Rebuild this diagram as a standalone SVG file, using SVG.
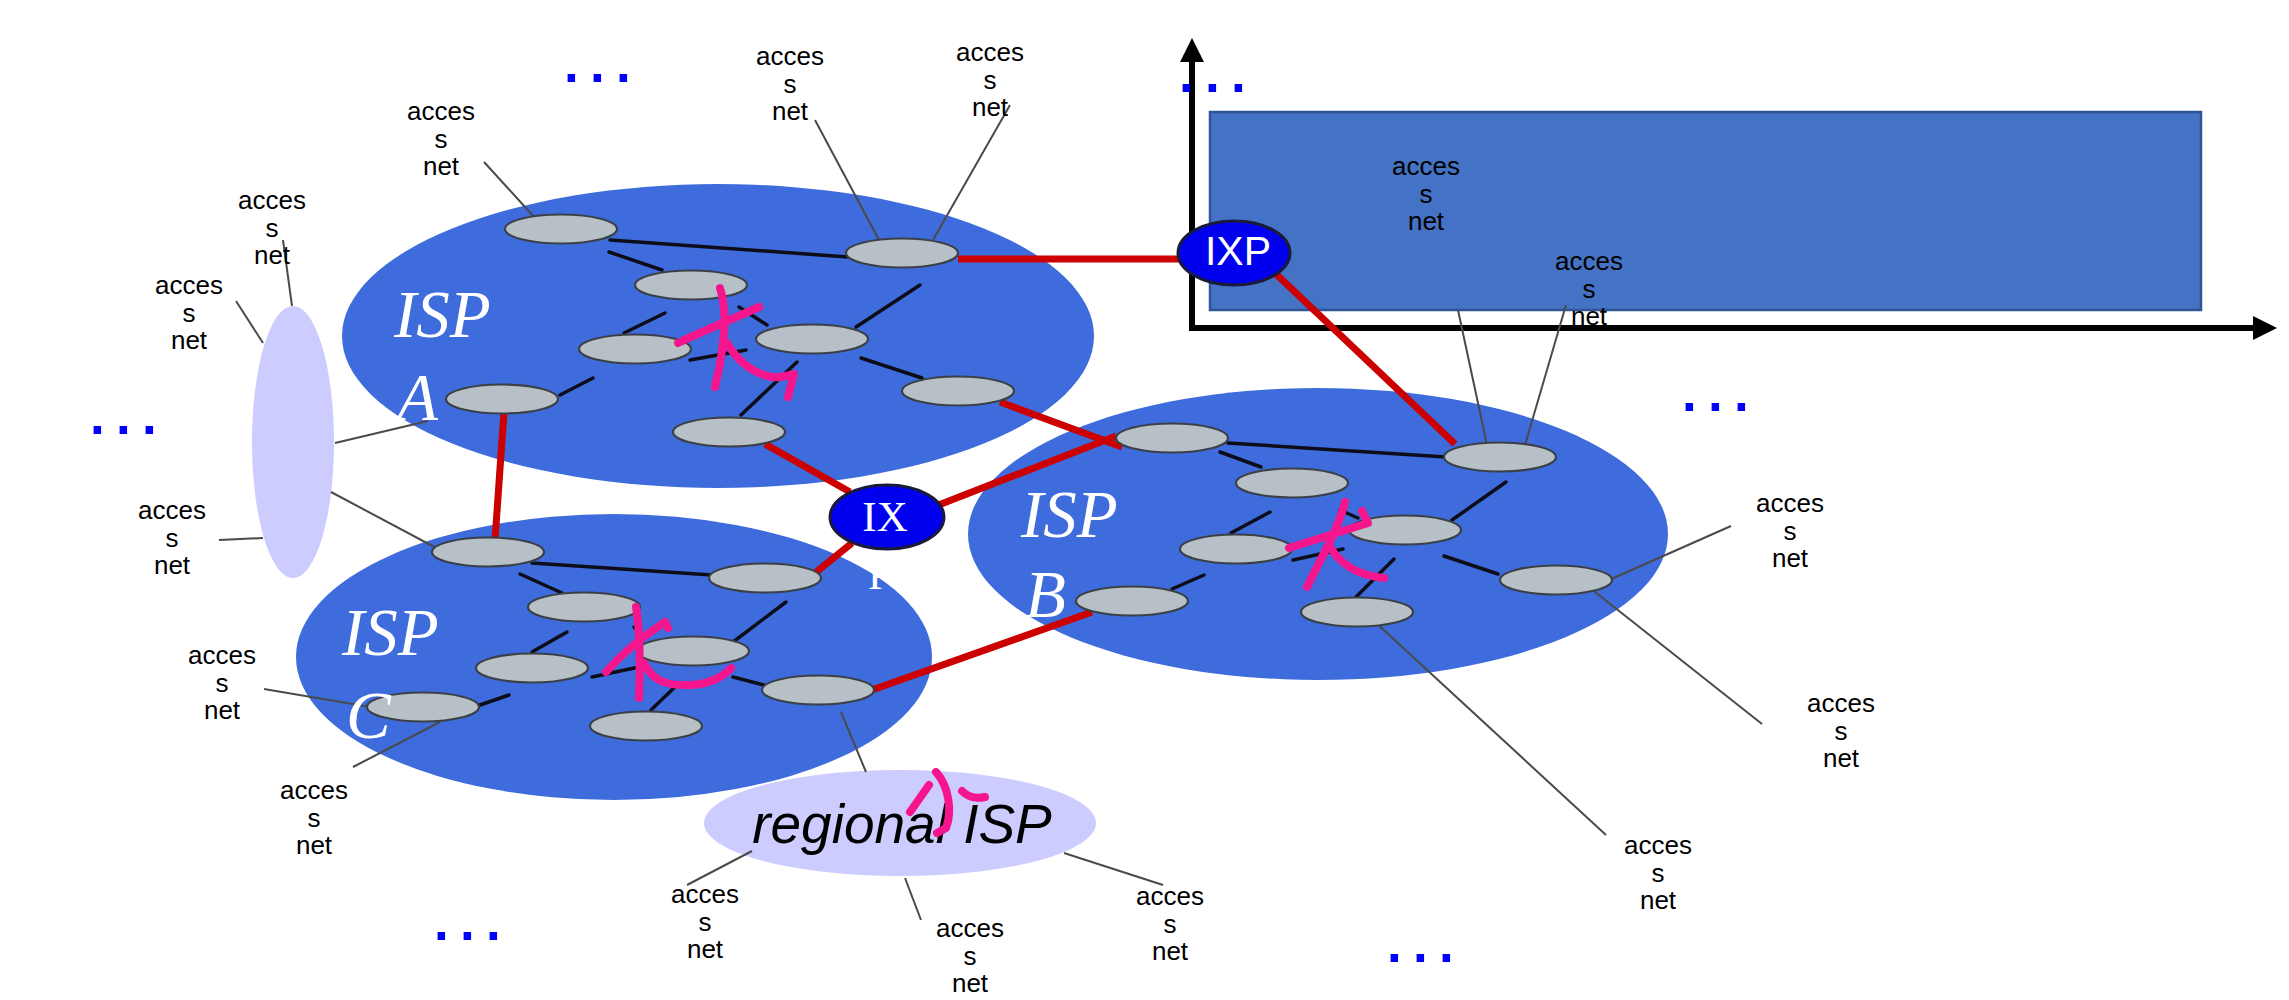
<svg xmlns="http://www.w3.org/2000/svg" width="2289" height="1000" viewBox="0 0 2289 1000">
<style>
.isp{fill:#3E6CDC}
.lav{fill:#CCCCFF}
.node{fill:#B7C0C6;stroke:#3a4046;stroke-width:2.2}
.acc{fill:none;stroke:#4a4a4a;stroke-width:2}
.blk{fill:none;stroke:#0d0d1a;stroke-width:3.5;stroke-linecap:round}
.red{fill:none;stroke:#CC0000;stroke-width:7}
.ix{fill:#0000EE;stroke:#1a1a3a;stroke-width:3}
.lbl{font-family:"Liberation Sans",Arial,sans-serif;font-size:26px;fill:#000;text-anchor:middle}
.ispt{font-family:"Liberation Serif","Times New Roman",serif;font-style:italic;font-size:67px;fill:#fff}
.dots{font-family:"Liberation Sans",Arial,sans-serif;font-weight:bold;font-size:53px;fill:#0000FF;letter-spacing:11.3px}
.ink{fill:none;stroke:#F5168E;stroke-width:8;stroke-linecap:round;stroke-linejoin:round}
.axis{fill:none;stroke:#000;stroke-width:6}
</style>
<defs>
<marker id="arrow" markerUnits="userSpaceOnUse" markerWidth="26" markerHeight="26" refX="2" refY="12" orient="auto">
<path d="M0,0 L24,12 L0,24 z" fill="#000"/>
</marker>
</defs>

<g id="backdrop">
<rect x="1210" y="112" width="991" height="198" fill="#4472C4" stroke="#2F5597" stroke-width="2.5"/>
</g>
<g id="axes">
<line class="axis" x1="1192" y1="331" x2="1192" y2="60" marker-end="url(#arrow)"/>
<line class="axis" x1="1189" y1="328" x2="2255" y2="328" marker-end="url(#arrow)"/>
</g>

<g id="isp-a"><ellipse class="isp" cx="718" cy="336" rx="376" ry="152"/></g>
<g id="isp-c"><ellipse class="isp" cx="614" cy="657" rx="318" ry="143"/></g>
<g id="isp-b"><ellipse class="isp" cx="1318" cy="534" rx="350" ry="146"/></g>
<g id="left-access-isp"><ellipse class="lav" cx="293" cy="442" rx="41" ry="136"/></g>
<g id="regional-isp"><ellipse class="lav" cx="900" cy="823" rx="196" ry="53"/></g>

<g id="connectors">
<g id="access-links">
<line class="acc" x1="283" y1="240" x2="292" y2="306"/>
<line class="acc" x1="236" y1="301" x2="263" y2="343"/>
<line class="acc" x1="219" y1="540" x2="263" y2="538"/>
<line class="acc" x1="335" y1="443" x2="428" y2="421"/>
<line class="acc" x1="331" y1="492" x2="440" y2="550"/>
<line class="acc" x1="484" y1="162" x2="535" y2="218"/>
<line class="acc" x1="264" y1="689" x2="400" y2="712"/>
<line class="acc" x1="353" y1="767" x2="440" y2="722"/>
<line class="acc" x1="815" y1="120" x2="879" y2="240"/>
<line class="acc" x1="1010" y1="105" x2="933" y2="240"/>
<line class="acc" x1="1458" y1="310" x2="1487" y2="445"/>
<line class="acc" x1="1566" y1="305" x2="1525" y2="445"/>
<line class="acc" x1="1731" y1="526" x2="1600" y2="584"/>
<line class="acc" x1="1762" y1="724" x2="1590" y2="588"/>
<line class="acc" x1="1606" y1="835" x2="1375" y2="622"/>
<line class="acc" x1="841" y1="712" x2="866" y2="772"/>
<line class="acc" x1="752" y1="851" x2="687" y2="885"/>
<line class="acc" x1="905" y1="878" x2="921" y2="920"/>
<line class="acc" x1="1064" y1="853" x2="1163" y2="885"/>
</g>
<g id="internal-links">
<line class="blk" x1="610" y1="240" x2="848" y2="257"/>
<line class="blk" x1="609" y1="252" x2="662" y2="270"/>
<line class="blk" x1="665" y1="313" x2="624" y2="333"/>
<line class="blk" x1="690" y1="360" x2="746" y2="350"/>
<line class="blk" x1="739" y1="307" x2="767" y2="325"/>
<line class="blk" x1="920" y1="285" x2="856" y2="327"/>
<line class="blk" x1="861" y1="358" x2="922" y2="378"/>
<line class="blk" x1="797" y1="362" x2="741" y2="415"/>
<line class="blk" x1="593" y1="378" x2="560" y2="395"/>

<line class="blk" x1="1228" y1="443" x2="1446" y2="457"/>
<line class="blk" x1="1220" y1="452" x2="1261" y2="467"/>
<line class="blk" x1="1506" y1="482" x2="1452" y2="520"/>
<line class="blk" x1="1340" y1="510" x2="1358" y2="518"/>
<line class="blk" x1="1270" y1="512" x2="1231" y2="533"/>
<line class="blk" x1="1293" y1="560" x2="1343" y2="549"/>
<line class="blk" x1="1444" y1="556" x2="1498" y2="574"/>
<line class="blk" x1="1394" y1="559" x2="1356" y2="597"/>
<line class="blk" x1="1204" y1="575" x2="1172" y2="589"/>

<line class="blk" x1="532" y1="563" x2="712" y2="575"/>
<line class="blk" x1="520" y1="574" x2="562" y2="593"/>
<line class="blk" x1="786" y1="602" x2="733" y2="642"/>
<line class="blk" x1="567" y1="632" x2="532" y2="652"/>
<line class="blk" x1="634" y1="627" x2="643" y2="637"/>
<line class="blk" x1="592" y1="677" x2="639" y2="667"/>
<line class="blk" x1="733" y1="677" x2="764" y2="685"/>
<line class="blk" x1="677" y1="685" x2="651" y2="710"/>
<line class="blk" x1="480" y1="705" x2="509" y2="695"/>
</g>
<g id="peering-links">
<line class="red" x1="958" y1="259" x2="1182" y2="259"/>
<line class="red" x1="1276" y1="274" x2="1455" y2="444"/>
<line class="red" x1="504" y1="412" x2="495" y2="540"/>
<line class="red" x1="765" y1="444" x2="850" y2="492"/>
<line class="red" x1="1000" y1="402" x2="1122" y2="447"/>
<line class="red" x1="936" y1="506" x2="1116" y2="436"/>
<line class="red" x1="852" y1="543" x2="815" y2="573"/>
<line class="red" x1="872" y1="690" x2="1092" y2="612"/>
</g>
</g>

<g id="routers">
<ellipse class="node" cx="561" cy="229" rx="56" ry="14.5"/>
<ellipse class="node" cx="902" cy="253" rx="56" ry="14.5"/>
<ellipse class="node" cx="691" cy="285" rx="56" ry="14.5"/>
<ellipse class="node" cx="635" cy="349" rx="56" ry="14.5"/>
<ellipse class="node" cx="812" cy="339" rx="56" ry="14.5"/>
<ellipse class="node" cx="502" cy="399" rx="56" ry="14.5"/>
<ellipse class="node" cx="958" cy="391" rx="56" ry="14.5"/>
<ellipse class="node" cx="729" cy="432" rx="56" ry="14.5"/>

<ellipse class="node" cx="1172" cy="438" rx="56" ry="14.5"/>
<ellipse class="node" cx="1500" cy="457" rx="56" ry="14.5"/>
<ellipse class="node" cx="1292" cy="483" rx="56" ry="14.5"/>
<ellipse class="node" cx="1405" cy="530" rx="56" ry="14.5"/>
<ellipse class="node" cx="1236" cy="549" rx="56" ry="14.5"/>
<ellipse class="node" cx="1556" cy="580" rx="56" ry="14.5"/>
<ellipse class="node" cx="1132" cy="601" rx="56" ry="14.5"/>
<ellipse class="node" cx="1357" cy="612" rx="56" ry="14.5"/>

<ellipse class="node" cx="488" cy="552" rx="56" ry="14.5"/>
<ellipse class="node" cx="765" cy="578" rx="56" ry="14.5"/>
<ellipse class="node" cx="584" cy="607" rx="56" ry="14.5"/>
<ellipse class="node" cx="693" cy="651" rx="56" ry="14.5"/>
<ellipse class="node" cx="532" cy="668" rx="56" ry="14.5"/>
<ellipse class="node" cx="818" cy="690" rx="56" ry="14.5"/>
<ellipse class="node" cx="423" cy="707" rx="56" ry="14.5"/>
<ellipse class="node" cx="646" cy="726" rx="56" ry="14.5"/>
</g>

<g id="ixp-top">
<ellipse class="ix" cx="1234" cy="253" rx="56" ry="32"/>
<text x="1238" y="265" font-family="Liberation Sans, Arial, sans-serif" font-size="41" fill="#fff" text-anchor="middle">IXP</text>
</g>
<g id="ixp-middle">
<ellipse class="ix" cx="887" cy="517" rx="57" ry="32"/>
<text font-family="Liberation Serif, Times New Roman, serif" font-size="43" fill="#fff" text-anchor="middle"><tspan x="885" y="531">IX</tspan><tspan x="880" y="589">P</tspan></text>
</g>

<g id="isp-labels">
<text class="ispt"><tspan x="394" y="337">ISP</tspan><tspan x="397" y="420">A</tspan></text>
<text class="ispt"><tspan x="1021" y="537">ISP</tspan><tspan x="1025" y="617">B</tspan></text>
<text class="ispt"><tspan x="342" y="655">ISP</tspan><tspan x="346" y="738">C</tspan></text>
<text x="902" y="843" font-family="Liberation Sans, Arial, sans-serif" font-style="italic" font-size="55" fill="#000" text-anchor="middle">regional ISP</text>
</g>

<g id="access-nets">
<text class="lbl"><tspan x="441" y="120">acces</tspan><tspan x="441" y="147.5">s</tspan><tspan x="441" y="175">net</tspan></text>
<text class="lbl"><tspan x="272" y="209">acces</tspan><tspan x="272" y="236.5">s</tspan><tspan x="272" y="264">net</tspan></text>
<text class="lbl"><tspan x="189" y="294">acces</tspan><tspan x="189" y="321.5">s</tspan><tspan x="189" y="349">net</tspan></text>
<text class="lbl"><tspan x="172" y="519">acces</tspan><tspan x="172" y="546.5">s</tspan><tspan x="172" y="574">net</tspan></text>
<text class="lbl"><tspan x="222" y="664">acces</tspan><tspan x="222" y="691.5">s</tspan><tspan x="222" y="719">net</tspan></text>
<text class="lbl"><tspan x="314" y="799">acces</tspan><tspan x="314" y="826.5">s</tspan><tspan x="314" y="854">net</tspan></text>
<text class="lbl"><tspan x="790" y="65">acces</tspan><tspan x="790" y="92.5">s</tspan><tspan x="790" y="120">net</tspan></text>
<text class="lbl"><tspan x="990" y="61">acces</tspan><tspan x="990" y="88.5">s</tspan><tspan x="990" y="116">net</tspan></text>
<text class="lbl"><tspan x="1426" y="175">acces</tspan><tspan x="1426" y="202.5">s</tspan><tspan x="1426" y="230">net</tspan></text>
<text class="lbl"><tspan x="1589" y="270">acces</tspan><tspan x="1589" y="297.5">s</tspan><tspan x="1589" y="325">net</tspan></text>
<text class="lbl"><tspan x="1790" y="512">acces</tspan><tspan x="1790" y="539.5">s</tspan><tspan x="1790" y="567">net</tspan></text>
<text class="lbl"><tspan x="1841" y="712">acces</tspan><tspan x="1841" y="739.5">s</tspan><tspan x="1841" y="767">net</tspan></text>
<text class="lbl"><tspan x="1658" y="854">acces</tspan><tspan x="1658" y="881.5">s</tspan><tspan x="1658" y="909">net</tspan></text>
<text class="lbl"><tspan x="705" y="903">acces</tspan><tspan x="705" y="930.5">s</tspan><tspan x="705" y="958">net</tspan></text>
<text class="lbl"><tspan x="970" y="937">acces</tspan><tspan x="970" y="964.5">s</tspan><tspan x="970" y="992">net</tspan></text>
<text class="lbl"><tspan x="1170" y="905">acces</tspan><tspan x="1170" y="932.5">s</tspan><tspan x="1170" y="960">net</tspan></text>
</g>

<g id="ellipses-dots">
<text class="dots" x="564" y="82">...</text>
<text class="dots" x="1179" y="92">...</text>
<text class="dots" x="90" y="434">...</text>
<text class="dots" x="1682" y="411">...</text>
<text class="dots" x="434" y="940">...</text>
<text class="dots" x="1387" y="962">...</text>
</g>

<g id="ink-annotations">
<path class="ink" d="M720,288 C728,312 725,345 715,387"/>
<path class="ink" d="M678,343 C705,330 735,318 759,307"/>
<path class="ink" d="M727,343 C738,362 752,373 772,377 C782,378 790,375 794,374 L788,397"/>
<path class="ink" d="M1345,502 C1338,530 1320,560 1307,587"/>
<path class="ink" d="M1289,548 L1368,523 L1362,511"/>
<path class="ink" d="M1330,547 C1340,563 1355,575 1384,578"/>
<path class="ink" d="M636,607 C640,630 640,670 639,698"/>
<path class="ink" d="M606,672 C625,650 645,635 665,622 L668,628"/>
<path class="ink" d="M644,663 C652,680 665,686 690,685 C710,684 722,678 731,668" stroke-width="10"/>
<path class="ink" d="M910,812 L929,785"/>
<path class="ink" d="M936,772 C948,785 953,810 946,828 L937,833"/>
<path class="ink" d="M962,791 C968,797 976,799 985,797"/>
</g>
</svg>
